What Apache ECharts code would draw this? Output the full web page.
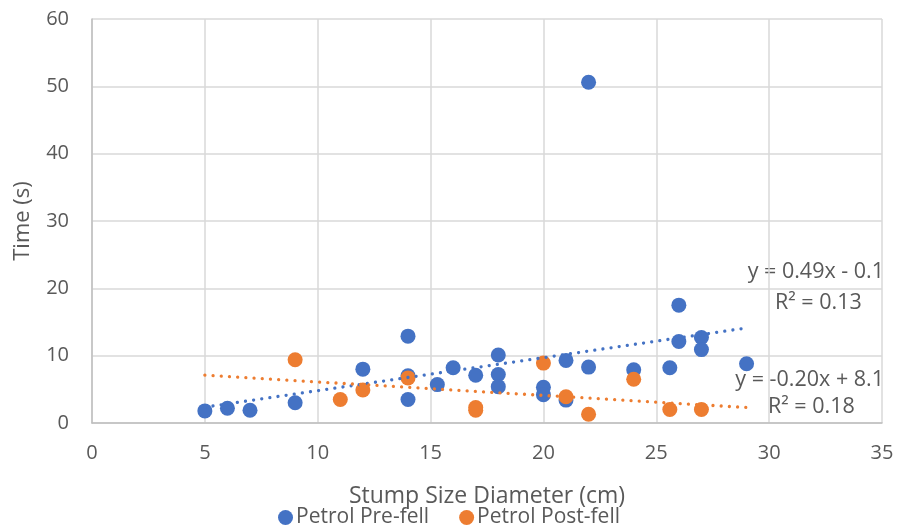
<!DOCTYPE html>
<html>
<head>
<meta charset="utf-8">
<script src="https://cdn.jsdelivr.net/npm/echarts@6/dist/echarts.min.js"></script>
<style>
  html, body { margin: 0; padding: 0; background: #fff; }
  #chart { width: 898px; height: 529px; }
</style>
</head>
<body>
<div id="chart"></div>
<script>
// Stump diameter (cm) vs. felling time (s)
const preFellX = [5, 6, 7, 9, 12, 14, 14, 14, 15.3, 16, 17, 18, 18, 18, 20, 20, 21, 21, 22, 22, 24, 25.6, 26, 26, 27, 27, 29];
const preFellY = [1.8, 2.2, 1.9, 3.0, 8.0, 12.9, 7.0, 3.5, 5.7, 8.2, 7.1, 10.1, 7.2, 5.4, 5.3, 4.2, 9.3, 3.4, 8.3, 50.6, 7.9, 8.2, 17.5, 12.1, 12.7, 10.9, 8.8];

const postFellX = [9, 11, 12, 14, 17, 17, 20, 21, 22, 24, 25.6, 27];
const postFellY = [9.4, 3.5, 4.9, 6.7, 2.3, 1.9, 8.9, 3.9, 1.3, 6.5, 2.0, 2.0];

// Linear trendlines: [slope, intercept, xStart, xEnd]
const preFellTrend = [0.49, -0.1, 5, 29];
const postFellTrend = [-0.20, 8.1, 5, 29];

const blue = '#4472C4';
const orange = '#ED7D31';
const textGrey = '#595959';
const FONT = '"Open Sans", sans-serif';

const pairs = (xs, ys) => xs.map((x, i) => [x, ys[i]]);
const trendPoints = t => [[t[2], t[0] * t[2] + t[1]], [t[3], t[0] * t[3] + t[1]]];

const chart = echarts.init(document.getElementById('chart'), null, { renderer: 'canvas' });

const trendLine = (t, color) => ({
  type: 'line',
  data: trendPoints(t),
  symbol: 'none',
  silent: true,
  z: 3,
  lineStyle: { color: color, width: 3.3, type: [0.01, 8.2], cap: 'round' }
});

const eqLabel = (text, x, y, align) => ({
  type: 'text', x: x, y: y,
  style: { text: text, fill: textGrey, font: '21.5px ' + FONT, align: align, verticalAlign: 'middle' }
});

chart.setOption({
  animation: false,
  grid: { left: 92, right: 16, top: 19, bottom: 106 },
  xAxis: {
    type: 'value',
    min: 0, max: 35, interval: 5,
    name: 'Stump Size Diameter (cm)',
    nameLocation: 'middle',
    nameGap: 62,
    nameTextStyle: { color: textGrey, fontSize: 23, fontFamily: FONT },
    axisLine: { lineStyle: { color: '#bfbfbf', width: 1.5 } },
    axisTick: { show: false },
    axisLabel: { color: textGrey, fontSize: 20, fontFamily: FONT, margin: 20 },
    splitLine: { lineStyle: { color: '#d9d9d9', width: 1.5 } }
  },
  yAxis: {
    type: 'value',
    min: 0, max: 60, interval: 10,
    name: 'Time (s)',
    nameLocation: 'middle',
    nameGap: 58,
    nameTextStyle: { color: textGrey, fontSize: 22, fontFamily: FONT },
    axisLine: { show: true, lineStyle: { color: '#bfbfbf', width: 1.5 } },
    axisTick: { show: false },
    axisLabel: { color: textGrey, fontSize: 20, fontFamily: FONT, margin: 23 },
    splitLine: { lineStyle: { color: '#d9d9d9', width: 1.5 } }
  },
  legend: {
    bottom: -4,
    left: 'center',
    itemWidth: 15, itemHeight: 15,
    itemGap: 30,
    icon: 'circle',
    textStyle: { color: textGrey, fontSize: 21, fontFamily: FONT, padding: [0, 0, 0, -2] },
    data: ['Petrol Pre-fell', 'Petrol Post-fell']
  },
  series: [
    {
      name: 'Petrol Pre-fell',
      type: 'scatter',
      data: pairs(preFellX, preFellY),
      symbolSize: 15,
      itemStyle: { color: blue, opacity: 1 },
      z: 2
    },
    {
      name: 'Petrol Post-fell',
      type: 'scatter',
      data: pairs(postFellX, postFellY),
      symbolSize: 15,
      itemStyle: { color: orange, opacity: 1 },
      z: 2
    },
    trendLine(preFellTrend, blue),
    trendLine(postFellTrend, orange)
  ],
  graphic: [
    eqLabel('y = 0.49x - 0.1', 884, 272, 'right'),
    eqLabel('R² = 0.13', 775, 303, 'left'),
    eqLabel('y = -0.20x + 8.1', 884, 380, 'right'),
    eqLabel('R² = 0.18', 768, 407, 'left')
  ]
});
</script>
</body>
</html>
